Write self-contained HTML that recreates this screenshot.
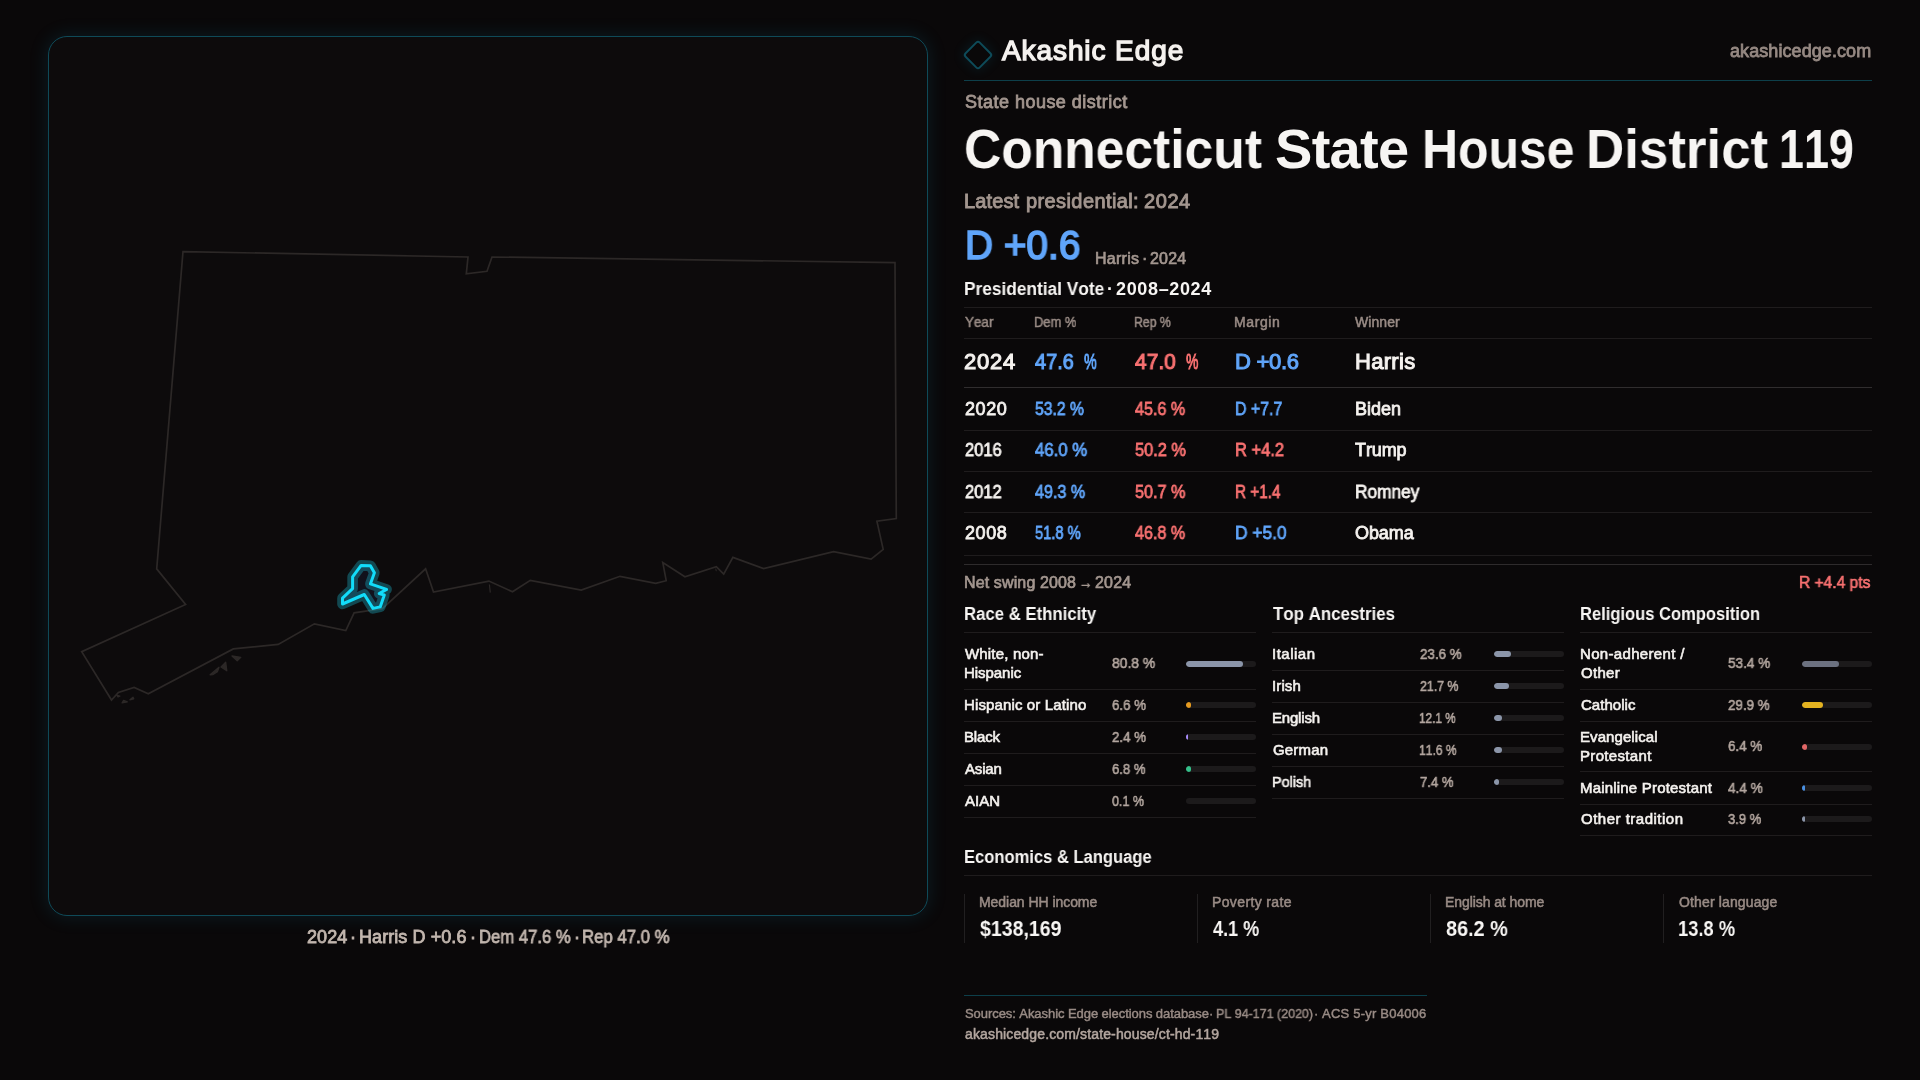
<!DOCTYPE html>
<html lang="en">
<head>
<meta charset="utf-8">
<title>Connecticut State House District 119 — Akashic Edge</title>
<style>
*{box-sizing:border-box;margin:0;padding:0}
html,body{width:1920px;height:1080px;overflow:hidden;background:#0a0809}
body{position:relative;font-family:"Liberation Sans",sans-serif;-webkit-font-smoothing:antialiased}
.t{position:absolute;white-space:pre;font-kerning:none;transform-origin:0 50%;will-change:transform}
.r{position:absolute}
.panel{position:absolute;left:48px;top:36px;width:880px;height:880px;border-radius:19px;background:#0d0b0c;border:1px solid #0f4a58;box-shadow:0 0 18px 2px rgba(20,150,185,.13)}
.bar{position:absolute;width:70px;height:6px;border-radius:3px;background:#1c1a1b;overflow:hidden}
.bar i{display:block;height:6px;border-radius:3px}
svg{position:absolute;left:0;top:0}
.logo{position:absolute;left:966.7px;top:44px;width:22px;height:22px;border:2px solid #0e4b59;border-radius:3.5px;transform:rotate(45deg);box-shadow:0 0 12px 2px rgba(20,150,185,.11)}
</style>
</head>
<body>
<figure aria-label="Connecticut map with State House District 119 highlighted">
<div class="panel"></div>
<svg role="img" aria-label="Outline of Connecticut; District 119 highlighted" width="1920" height="1080" viewBox="0 0 1920 1080" fill="none">
  <g stroke="#2c2827" stroke-width="1.7" stroke-linejoin="miter" stroke-linecap="butt">
    <path d="M183 251.6 L468 257 L466.3 273.8 L487 271.3 L492 257 L895 262.6 L896.3 518.6 L876.9 521.2 L883.2 549.3 L871.1 559.2 L833.6 551.6 L763.6 568.5 L732.9 557.4 L723.7 574.1 L716.3 566.6 L684.9 576.8 L662.8 562.6 L666.2 580.7 L655.7 583.4 L620 576.3 L581.2 590 L530.3 580.3 L512.5 591.8 L488.9 581.1 L433.5 592.1 L425.6 568.8 L382.4 608.7 L367.3 610.9 L354.1 612.8 L345.8 630.5 L314.4 623.8 L278.2 644.4 L233.3 648.9 L148.3 693.75 L134.1 687.5 L118.4 692.5 L111.5 700 L81.7 651.7 L185.6 604.4 L156.7 568.9 Z"/>
    <path d="M489.4 584.5 L490.3 592.6" stroke-width="1.2"/>
    <path d="M715.7 568.6 L716.3 571.2" stroke-width="1"/>
  </g>
  <g fill="#2c2827" stroke="#2c2827" stroke-width="1.3" stroke-linejoin="round">
    <path d="M232 656 L240.8 657.3 L237.2 660.7 Z"/>
    <path d="M225.7 662.3 L226.8 670.8 L221 667 Z"/>
    <path d="M210.1 674.8 L219 667.3 L217.4 671.7 L212.7 674.6 Z"/>
    <path d="M122.1 702.9 L123.6 700.3 L127.3 701.9 Z"/>
    <path d="M129.9 699.8 L133 697.2 L133.75 698.75 Z"/>
    <path d="M116.6 695 L119.8 696.2 L118 697 Z"/>
  </g>
  <g stroke-linejoin="round">
    <path id="dist" d="M361.1 565.4 L370.4 565.7 L374.4 572.8 L370.4 583.9 L386.6 589.4 L379.2 593.5 L384.3 595 L380.2 606.9 L373 608.4 L364.3 594.5 L342.5 604 L342.5 598.2 L352.6 588.7 L352.6 576.9 Z" fill="#11111c" stroke="#1fd6f2" stroke-opacity=".3" stroke-width="10.6"/>
    <path d="M361.1 565.4 L370.4 565.7 L374.4 572.8 L370.4 583.9 L386.6 589.4 L379.2 593.5 L384.3 595 L380.2 606.9 L373 608.4 L364.3 594.5 L342.5 604 L342.5 598.2 L352.6 588.7 L352.6 576.9 Z" stroke="#12dcfa" stroke-width="3"/>
  </g>
</svg>
<figcaption aria-label="Map caption">
<div class="t" style="left:306.65px;top:928px;font-size:18px;line-height:18px;color:#c2b6ae;letter-spacing:0.073px;-webkit-text-stroke:0.8px;">2024</div>
<div class="t" style="left:350.10px;top:928px;font-size:18px;line-height:18px;color:#c2b6ae;-webkit-text-stroke:0.8px;">·</div>
<div class="t" style="left:359.20px;top:928px;font-size:18px;line-height:18px;color:#c2b6ae;letter-spacing:0.073px;-webkit-text-stroke:0.8px;">Harris D +0.6</div>
<div class="t" style="left:470.30px;top:928px;font-size:18px;line-height:18px;color:#c2b6ae;-webkit-text-stroke:0.8px;">·</div>
<div class="t" style="left:478.67px;top:928px;font-size:18px;line-height:18px;color:#c2b6ae;transform:scaleX(0.9262);-webkit-text-stroke:0.8px;">Dem 47.6 %</div>
<div class="t" style="left:573.50px;top:928px;font-size:18px;line-height:18px;color:#c2b6ae;-webkit-text-stroke:0.8px;">·</div>
<div class="t" style="left:582.17px;top:928px;font-size:18px;line-height:18px;color:#c2b6ae;transform:scaleX(0.9317);-webkit-text-stroke:0.8px;">Rep 47.0 %</div>
</figcaption>
</figure>
<main>
<div class="logo"></div>
<div aria-hidden="true">
<div class="r" style="left:964px;top:689px;width:292px;height:1px;background:#1f1c1d"></div>
<div class="r" style="left:964px;top:721px;width:292px;height:1px;background:#1f1c1d"></div>
<div class="r" style="left:964px;top:753px;width:292px;height:1px;background:#1f1c1d"></div>
<div class="r" style="left:964px;top:784.5px;width:292px;height:1px;background:#1f1c1d"></div>
<div class="r" style="left:964px;top:816.5px;width:292px;height:1px;background:#1f1c1d"></div>
<div class="r" style="left:1272px;top:670px;width:292px;height:1px;background:#1f1c1d"></div>
<div class="r" style="left:1272px;top:702px;width:292px;height:1px;background:#1f1c1d"></div>
<div class="r" style="left:1272px;top:734px;width:292px;height:1px;background:#1f1c1d"></div>
<div class="r" style="left:1272px;top:766px;width:292px;height:1px;background:#1f1c1d"></div>
<div class="r" style="left:1272px;top:797.5px;width:292px;height:1px;background:#1f1c1d"></div>
<div class="r" style="left:1580px;top:689px;width:292px;height:1px;background:#1f1c1d"></div>
<div class="r" style="left:1580px;top:721px;width:292px;height:1px;background:#1f1c1d"></div>
<div class="r" style="left:1580px;top:771px;width:292px;height:1px;background:#1f1c1d"></div>
<div class="r" style="left:1580px;top:803.5px;width:292px;height:1px;background:#1f1c1d"></div>
<div class="r" style="left:1580px;top:835px;width:292px;height:1px;background:#1f1c1d"></div>
<div class="r" style="left:964px;top:80px;width:908px;height:1.2px;background:#0d3f4a"></div>
<div class="r" style="left:964px;top:307px;width:908px;height:1px;background:#1f1c1d"></div>
<div class="r" style="left:964px;top:338px;width:908px;height:1px;background:#1f1c1d"></div>
<div class="r" style="left:964px;top:387px;width:908px;height:1px;background:#302d2e"></div>
<div class="r" style="left:964px;top:430px;width:908px;height:1px;background:#1f1c1d"></div>
<div class="r" style="left:964px;top:471px;width:908px;height:1px;background:#1f1c1d"></div>
<div class="r" style="left:964px;top:512px;width:908px;height:1px;background:#1f1c1d"></div>
<div class="r" style="left:964px;top:555px;width:908px;height:1px;background:#1f1c1d"></div>
<div class="r" style="left:964px;top:564px;width:908px;height:1px;background:#2e2b2c"></div>
<div class="r" style="left:964px;top:632px;width:292px;height:1px;background:#1f1c1d"></div>
<div class="r" style="left:1272px;top:632px;width:292px;height:1px;background:#1f1c1d"></div>
<div class="r" style="left:1580px;top:632px;width:292px;height:1px;background:#1f1c1d"></div>
<div class="r" style="left:964px;top:875px;width:908px;height:1px;background:#1f1c1d"></div>
<div class="r" style="left:964px;top:995px;width:463px;height:1.2px;background:#0d3f4a"></div>
<div class="r" style="left:964px;top:894px;width:1px;height:48.5px;background:#211f20"></div>
<div class="r" style="left:1197px;top:894px;width:1px;height:48.5px;background:#211f20"></div>
<div class="r" style="left:1430px;top:894px;width:1px;height:48.5px;background:#211f20"></div>
<div class="r" style="left:1663px;top:894px;width:1px;height:48.5px;background:#211f20"></div>
<div class="bar" style="left:1186px;top:661.20px"><i style="width:56.56px;background:#8b95a9"></i></div>
<div class="bar" style="left:1186px;top:702.00px"><i style="width:5.20px;background:#e59a1f"></i></div>
<div class="bar" style="left:1186px;top:734.00px"><i style="width:2.20px;background:#a78bfa"></i></div>
<div class="bar" style="left:1186px;top:766.00px"><i style="width:5.20px;background:#34c08a"></i></div>
<div class="bar" style="left:1186px;top:798.00px"><i style="width:0.07px;background:#8b95a9"></i></div>
<div class="bar" style="left:1494px;top:650.80px"><i style="width:16.52px;background:#8b95a9"></i></div>
<div class="bar" style="left:1494px;top:682.80px"><i style="width:15.19px;background:#8b95a9"></i></div>
<div class="bar" style="left:1494px;top:714.80px"><i style="width:8.47px;background:#8b95a9"></i></div>
<div class="bar" style="left:1494px;top:746.80px"><i style="width:8.12px;background:#8b95a9"></i></div>
<div class="bar" style="left:1494px;top:778.80px"><i style="width:5.20px;background:#8b95a9"></i></div>
<div class="bar" style="left:1802px;top:661.20px"><i style="width:37.38px;background:#6c7180"></i></div>
<div class="bar" style="left:1802px;top:702.00px"><i style="width:20.93px;background:#e3b220"></i></div>
<div class="bar" style="left:1802px;top:744.00px"><i style="width:5.20px;background:#e06666"></i></div>
<div class="bar" style="left:1802px;top:785.00px"><i style="width:3.08px;background:#4a90e2"></i></div>
<div class="bar" style="left:1802px;top:816.00px"><i style="width:2.73px;background:#8b95a9"></i></div>
</div>
<header aria-label="Akashic Edge">
<div class="t" style="left:1001.92px;top:37px;font-size:28px;line-height:28px;color:#f5f2ef;letter-spacing:0.910px;-webkit-text-stroke:1.35px;">Akashic Edge</div>
<div class="t" style="left:1729.80px;top:42px;font-size:18px;line-height:18px;color:#968983;letter-spacing:0.080px;-webkit-text-stroke:0.8px;">akashicedge.com</div>
</header>
<section aria-label="District summary">
<div class="t" style="left:964.90px;top:93px;font-size:18px;line-height:18px;color:#a3968f;letter-spacing:0.480px;-webkit-text-stroke:0.8px;">State house district</div>
<div class="t" style="left:964.41px;top:121px;font-size:56px;line-height:56px;color:#f7f5f3;transform:scaleX(0.9208);font-weight:700;">Connecticut</div>
<div class="t" style="left:1274.50px;top:121px;font-size:56px;line-height:56px;color:#f7f5f3;letter-spacing:-0.698px;font-weight:700;">State</div>
<div class="t" style="left:1421.58px;top:121px;font-size:56px;line-height:56px;color:#f7f5f3;transform:scaleX(0.8907);font-weight:700;">House</div>
<div class="t" style="left:1585.92px;top:121px;font-size:56px;line-height:56px;color:#f7f5f3;transform:scaleX(0.9443);font-weight:700;">District</div>
<div class="t" style="left:1779.35px;top:121px;font-size:56px;line-height:56px;color:#f7f5f3;transform:scaleX(0.8005);font-weight:700;">119</div>
<div class="t" style="left:963.95px;top:191px;font-size:20px;line-height:20px;color:#a3968f;letter-spacing:0.135px;-webkit-text-stroke:0.9px;">Latest</div>
<div class="t" style="left:1026.45px;top:191px;font-size:20px;line-height:20px;color:#a3968f;letter-spacing:0.401px;-webkit-text-stroke:0.9px;">presidential:</div>
<div class="t" style="left:1143.95px;top:191px;font-size:20px;line-height:20px;color:#a3968f;letter-spacing:0.577px;-webkit-text-stroke:0.9px;">2024</div>
<div class="t" style="left:964.94px;top:225px;font-size:40px;line-height:40px;color:#60a5fa;transform:scaleX(0.9702);-webkit-text-stroke:1.7px;">D +0.6</div>
<div class="t" style="left:1095.09px;top:251px;font-size:16px;line-height:16px;color:#a3968f;letter-spacing:0.281px;-webkit-text-stroke:0.68px;">Harris</div>
<div class="t" style="left:1142.10px;top:251px;font-size:16px;line-height:16px;color:#a3968f;-webkit-text-stroke:0.68px;">·</div>
<div class="t" style="left:1150.34px;top:251px;font-size:16px;line-height:16px;color:#a3968f;letter-spacing:0.208px;-webkit-text-stroke:0.68px;">2024</div>
</section>
<section aria-label="Presidential vote 2008-2024">
<div class="t" style="left:963.54px;top:280px;font-size:18px;line-height:18px;color:#f8f6f4;transform:scaleX(0.9603);font-weight:700;">Presidential Vote</div>
<div class="t" style="left:1107.30px;top:280px;font-size:18px;line-height:18px;color:#f8f6f4;font-weight:700;">·</div>
<div class="t" style="left:1115.50px;top:280px;font-size:18px;line-height:18px;color:#f8f6f4;letter-spacing:0.646px;font-weight:700;">2008–2024</div>
<div class="t" style="left:964.76px;top:315px;font-size:14px;line-height:14px;color:#998b85;transform:scaleX(0.9600);-webkit-text-stroke:0.52px;">Year</div>
<div class="t" style="left:1033.84px;top:315px;font-size:14px;line-height:14px;color:#998b85;transform:scaleX(0.9220);-webkit-text-stroke:0.52px;">Dem %</div>
<div class="t" style="left:1133.89px;top:315px;font-size:14px;line-height:14px;color:#998b85;transform:scaleX(0.8745);-webkit-text-stroke:0.52px;">Rep %</div>
<div class="t" style="left:1233.76px;top:315px;font-size:14px;line-height:14px;color:#998b85;letter-spacing:0.595px;-webkit-text-stroke:0.52px;">Margin</div>
<div class="t" style="left:1354.76px;top:315px;font-size:14px;line-height:14px;color:#998b85;letter-spacing:0.059px;-webkit-text-stroke:0.52px;">Winner</div>
<div class="t" style="left:964.02px;top:351px;font-size:22px;line-height:22px;color:#f5f2ef;letter-spacing:0.748px;-webkit-text-stroke:1.05px;">2024</div>
<div class="t" style="left:1034.73px;top:351px;font-size:22px;line-height:22px;color:#60a5fa;transform:scaleX(0.9076);-webkit-text-stroke:1.05px;">47.6</div>
<div class="t" style="left:1083.53px;top:351px;font-size:22px;line-height:22px;color:#60a5fa;transform:scaleX(0.6500);-webkit-text-stroke:1.05px;">%</div>
<div class="t" style="left:1135.03px;top:351px;font-size:22px;line-height:22px;color:#f87171;transform:scaleX(0.9546);-webkit-text-stroke:1.05px;">47.0</div>
<div class="t" style="left:1185.73px;top:351px;font-size:22px;line-height:22px;color:#f87171;transform:scaleX(0.6342);-webkit-text-stroke:1.05px;">%</div>
<div class="t" style="left:1235.03px;top:351px;font-size:22px;line-height:22px;color:#60a5fa;letter-spacing:-0.299px;-webkit-text-stroke:1.05px;">D +0.6</div>
<div class="t" style="left:1355.03px;top:351px;font-size:22px;line-height:22px;color:#f5f2ef;letter-spacing:0.307px;-webkit-text-stroke:1.05px;">Harris</div>
<div class="t" style="left:964.90px;top:400px;font-size:18px;line-height:18px;color:#f5f2ef;letter-spacing:0.556px;-webkit-text-stroke:0.8px;">2020</div>
<div class="t" style="left:1034.90px;top:400px;font-size:18px;line-height:18px;color:#60a5fa;transform:scaleX(0.8736);-webkit-text-stroke:0.8px;">53.2 %</div>
<div class="t" style="left:1134.90px;top:400px;font-size:18px;line-height:18px;color:#f87171;transform:scaleX(0.8959);-webkit-text-stroke:0.8px;">45.6 %</div>
<div class="t" style="left:1234.82px;top:400px;font-size:18px;line-height:18px;color:#60a5fa;transform:scaleX(0.8834);-webkit-text-stroke:0.8px;">D +7.7</div>
<div class="t" style="left:1354.70px;top:400px;font-size:18px;line-height:18px;color:#f5f2ef;letter-spacing:-0.032px;-webkit-text-stroke:0.8px;">Biden</div>
<div class="t" style="left:964.90px;top:441px;font-size:18px;line-height:18px;color:#f5f2ef;transform:scaleX(0.9168);-webkit-text-stroke:0.8px;">2016</div>
<div class="t" style="left:1034.90px;top:441px;font-size:18px;line-height:18px;color:#60a5fa;transform:scaleX(0.9316);-webkit-text-stroke:0.8px;">46.0 %</div>
<div class="t" style="left:1134.90px;top:441px;font-size:18px;line-height:18px;color:#f87171;transform:scaleX(0.9093);-webkit-text-stroke:0.8px;">50.2 %</div>
<div class="t" style="left:1234.78px;top:441px;font-size:18px;line-height:18px;color:#f87171;transform:scaleX(0.9167);-webkit-text-stroke:0.8px;">R +4.2</div>
<div class="t" style="left:1354.90px;top:441px;font-size:18px;line-height:18px;color:#f5f2ef;letter-spacing:-0.094px;-webkit-text-stroke:0.8px;">Trump</div>
<div class="t" style="left:964.90px;top:483px;font-size:18px;line-height:18px;color:#f5f2ef;transform:scaleX(0.9168);-webkit-text-stroke:0.8px;">2012</div>
<div class="t" style="left:1034.90px;top:483px;font-size:18px;line-height:18px;color:#60a5fa;transform:scaleX(0.8959);-webkit-text-stroke:0.8px;">49.3 %</div>
<div class="t" style="left:1134.90px;top:483px;font-size:18px;line-height:18px;color:#f87171;transform:scaleX(0.9003);-webkit-text-stroke:0.8px;">50.7 %</div>
<div class="t" style="left:1234.85px;top:483px;font-size:18px;line-height:18px;color:#f87171;transform:scaleX(0.8501);-webkit-text-stroke:0.8px;">R +1.4</div>
<div class="t" style="left:1354.74px;top:483px;font-size:18px;line-height:18px;color:#f5f2ef;transform:scaleX(0.9602);-webkit-text-stroke:0.8px;">Romney</div>
<div class="t" style="left:964.90px;top:524px;font-size:18px;line-height:18px;color:#f5f2ef;letter-spacing:0.556px;-webkit-text-stroke:0.8px;">2008</div>
<div class="t" style="left:1034.90px;top:524px;font-size:18px;line-height:18px;color:#60a5fa;transform:scaleX(0.8156);-webkit-text-stroke:0.8px;">51.8 %</div>
<div class="t" style="left:1134.90px;top:524px;font-size:18px;line-height:18px;color:#f87171;transform:scaleX(0.8959);-webkit-text-stroke:0.8px;">46.8 %</div>
<div class="t" style="left:1234.74px;top:524px;font-size:18px;line-height:18px;color:#60a5fa;transform:scaleX(0.9643);-webkit-text-stroke:0.8px;">D +5.0</div>
<div class="t" style="left:1354.90px;top:524px;font-size:18px;line-height:18px;color:#f5f2ef;letter-spacing:-0.079px;-webkit-text-stroke:0.8px;">Obama</div>
<div class="t" style="left:963.84px;top:575px;font-size:16px;line-height:16px;color:#a3968f;letter-spacing:0.129px;-webkit-text-stroke:0.68px;">Net swing 2008</div>
<div class="t" style="left:1078.52px;top:575px;font-size:16px;line-height:16px;color:#a3968f;transform:scaleX(0.8570);-webkit-text-stroke:0.68px;">→</div>
<div class="t" style="left:1094.84px;top:575px;font-size:16px;line-height:16px;color:#a3968f;letter-spacing:0.208px;-webkit-text-stroke:0.68px;">2024</div>
<div class="t" style="left:1798.87px;top:575px;font-size:16px;line-height:16px;color:#f87171;transform:scaleX(0.9716);-webkit-text-stroke:0.68px;">R +4.4 pts</div>
</section>
<section aria-label="Demographics">
<div class="t" style="left:963.57px;top:605px;font-size:18px;line-height:18px;color:#f8f6f4;transform:scaleX(0.9307);font-weight:700;">Race &amp; Ethnicity</div>
<div class="t" style="left:1272.50px;top:605px;font-size:18px;line-height:18px;color:#f8f6f4;transform:scaleX(0.9383);font-weight:700;">Top Ancestries</div>
<div class="t" style="left:1579.58px;top:605px;font-size:18px;line-height:18px;color:#f8f6f4;transform:scaleX(0.9188);font-weight:700;">Religious Composition</div>
<div class="t" style="left:965.00px;top:646px;font-size:15px;line-height:15px;color:#f5f2ef;letter-spacing:0.175px;-webkit-text-stroke:0.6px;">White, non-</div>
<div class="t" style="left:964.00px;top:665px;font-size:15px;line-height:15px;color:#f5f2ef;letter-spacing:-0.046px;-webkit-text-stroke:0.6px;">Hispanic</div>
<div class="t" style="left:1112.20px;top:655px;font-size:15px;line-height:15px;color:#b3a69f;transform:scaleX(0.9275);-webkit-text-stroke:0.6px;">80.8 %</div>
<div class="t" style="left:964.00px;top:697px;font-size:15px;line-height:15px;color:#f5f2ef;letter-spacing:0.131px;-webkit-text-stroke:0.6px;">Hispanic or Latino</div>
<div class="t" style="left:1112.20px;top:697px;font-size:15px;line-height:15px;color:#b3a69f;transform:scaleX(0.8877);-webkit-text-stroke:0.6px;">6.6 %</div>
<div class="t" style="left:964.00px;top:729px;font-size:15px;line-height:15px;color:#f5f2ef;letter-spacing:-0.182px;-webkit-text-stroke:0.6px;">Black</div>
<div class="t" style="left:1112.20px;top:729px;font-size:15px;line-height:15px;color:#b3a69f;transform:scaleX(0.8877);-webkit-text-stroke:0.6px;">2.4 %</div>
<div class="t" style="left:965.00px;top:761px;font-size:15px;line-height:15px;color:#f5f2ef;letter-spacing:-0.182px;-webkit-text-stroke:0.6px;">Asian</div>
<div class="t" style="left:1112.20px;top:761px;font-size:15px;line-height:15px;color:#b3a69f;transform:scaleX(0.8746);-webkit-text-stroke:0.6px;">6.8 %</div>
<div class="t" style="left:965.00px;top:793px;font-size:15px;line-height:15px;color:#f5f2ef;letter-spacing:0.008px;-webkit-text-stroke:0.6px;">AIAN</div>
<div class="t" style="left:1112.20px;top:793px;font-size:15px;line-height:15px;color:#b3a69f;transform:scaleX(0.8351);-webkit-text-stroke:0.6px;">0.1 %</div>
<div class="t" style="left:1272.00px;top:646px;font-size:15px;line-height:15px;color:#f5f2ef;letter-spacing:0.503px;-webkit-text-stroke:0.6px;">Italian</div>
<div class="t" style="left:1420.20px;top:646px;font-size:15px;line-height:15px;color:#b3a69f;transform:scaleX(0.8951);-webkit-text-stroke:0.6px;">23.6 %</div>
<div class="t" style="left:1272.00px;top:678px;font-size:15px;line-height:15px;color:#f5f2ef;letter-spacing:0.114px;-webkit-text-stroke:0.6px;">Irish</div>
<div class="t" style="left:1420.20px;top:678px;font-size:15px;line-height:15px;color:#b3a69f;transform:scaleX(0.8250);-webkit-text-stroke:0.6px;">21.7 %</div>
<div class="t" style="left:1272.00px;top:710px;font-size:15px;line-height:15px;color:#f5f2ef;letter-spacing:-0.192px;-webkit-text-stroke:0.6px;">English</div>
<div class="t" style="left:1419.41px;top:710px;font-size:15px;line-height:15px;color:#b3a69f;transform:scaleX(0.7881);-webkit-text-stroke:0.6px;">12.1 %</div>
<div class="t" style="left:1273.00px;top:742px;font-size:15px;line-height:15px;color:#f5f2ef;letter-spacing:0.172px;-webkit-text-stroke:0.6px;">German</div>
<div class="t" style="left:1419.39px;top:742px;font-size:15px;line-height:15px;color:#b3a69f;transform:scaleX(0.8079);-webkit-text-stroke:0.6px;">11.6 %</div>
<div class="t" style="left:1272.04px;top:774px;font-size:15px;line-height:15px;color:#f5f2ef;transform:scaleX(0.9605);-webkit-text-stroke:0.6px;">Polish</div>
<div class="t" style="left:1420.20px;top:774px;font-size:15px;line-height:15px;color:#b3a69f;transform:scaleX(0.8746);-webkit-text-stroke:0.6px;">7.4 %</div>
<div class="t" style="left:1580.00px;top:646px;font-size:15px;line-height:15px;color:#f5f2ef;letter-spacing:0.331px;-webkit-text-stroke:0.6px;">Non-adherent /</div>
<div class="t" style="left:1581.00px;top:665px;font-size:15px;line-height:15px;color:#f5f2ef;letter-spacing:0.295px;-webkit-text-stroke:0.6px;">Other</div>
<div class="t" style="left:1728.20px;top:655px;font-size:15px;line-height:15px;color:#b3a69f;transform:scaleX(0.9059);-webkit-text-stroke:0.6px;">53.4 %</div>
<div class="t" style="left:1581.00px;top:697px;font-size:15px;line-height:15px;color:#f5f2ef;letter-spacing:0.037px;-webkit-text-stroke:0.6px;">Catholic</div>
<div class="t" style="left:1728.20px;top:697px;font-size:15px;line-height:15px;color:#b3a69f;transform:scaleX(0.8951);-webkit-text-stroke:0.6px;">29.9 %</div>
<div class="t" style="left:1580.00px;top:729px;font-size:15px;line-height:15px;color:#f5f2ef;letter-spacing:0.082px;-webkit-text-stroke:0.6px;">Evangelical</div>
<div class="t" style="left:1580.00px;top:748px;font-size:15px;line-height:15px;color:#f5f2ef;letter-spacing:0.333px;-webkit-text-stroke:0.6px;">Protestant</div>
<div class="t" style="left:1728.20px;top:738px;font-size:15px;line-height:15px;color:#b3a69f;transform:scaleX(0.8943);-webkit-text-stroke:0.6px;">6.4 %</div>
<div class="t" style="left:1580.00px;top:780px;font-size:15px;line-height:15px;color:#f5f2ef;letter-spacing:0.193px;-webkit-text-stroke:0.6px;">Mainline Protestant</div>
<div class="t" style="left:1728.20px;top:780px;font-size:15px;line-height:15px;color:#b3a69f;transform:scaleX(0.9074);-webkit-text-stroke:0.6px;">4.4 %</div>
<div class="t" style="left:1581.00px;top:811px;font-size:15px;line-height:15px;color:#f5f2ef;letter-spacing:0.500px;-webkit-text-stroke:0.6px;">Other tradition</div>
<div class="t" style="left:1728.20px;top:811px;font-size:15px;line-height:15px;color:#b3a69f;transform:scaleX(0.8680);-webkit-text-stroke:0.6px;">3.9 %</div>
</section>
<section aria-label="Economics and language">
<div class="t" style="left:963.58px;top:848px;font-size:18px;line-height:18px;color:#f8f6f4;transform:scaleX(0.9198);font-weight:700;">Economics &amp; Language</div>
<div class="t" style="left:978.76px;top:895px;font-size:14px;line-height:14px;color:#998b85;letter-spacing:-0.052px;-webkit-text-stroke:0.52px;">Median HH income</div>
<div class="t" style="left:980.00px;top:918px;font-size:22px;line-height:22px;color:#f8f6f4;transform:scaleX(0.8877);font-weight:700;">$138,169</div>
<div class="t" style="left:1211.76px;top:895px;font-size:14px;line-height:14px;color:#998b85;letter-spacing:0.367px;-webkit-text-stroke:0.52px;">Poverty rate</div>
<div class="t" style="left:1212.50px;top:918px;font-size:22px;line-height:22px;color:#f8f6f4;transform:scaleX(0.8214);font-weight:700;">4.1 %</div>
<div class="t" style="left:1444.76px;top:895px;font-size:14px;line-height:14px;color:#998b85;letter-spacing:-0.080px;-webkit-text-stroke:0.52px;">English at home</div>
<div class="t" style="left:1445.50px;top:918px;font-size:22px;line-height:22px;color:#f8f6f4;transform:scaleX(0.9017);font-weight:700;">86.2 %</div>
<div class="t" style="left:1678.76px;top:895px;font-size:14px;line-height:14px;color:#998b85;letter-spacing:0.135px;-webkit-text-stroke:0.52px;">Other language</div>
<div class="t" style="left:1678.42px;top:918px;font-size:22px;line-height:22px;color:#f8f6f4;transform:scaleX(0.8330);font-weight:700;">13.8 %</div>
</section>
<footer aria-label="Sources">
<div class="t" style="left:964.73px;top:1007px;font-size:13px;line-height:13px;color:#998b85;letter-spacing:-0.065px;-webkit-text-stroke:0.45px;">Sources: Akashic Edge elections database</div>
<div class="t" style="left:1209.20px;top:1007px;font-size:13px;line-height:13px;color:#998b85;-webkit-text-stroke:0.45px;">·</div>
<div class="t" style="left:1216.27px;top:1007px;font-size:13px;line-height:13px;color:#998b85;transform:scaleX(0.9594);-webkit-text-stroke:0.45px;">PL 94-171 (2020)</div>
<div class="t" style="left:1314.20px;top:1007px;font-size:13px;line-height:13px;color:#998b85;-webkit-text-stroke:0.45px;">·</div>
<div class="t" style="left:1321.97px;top:1007px;font-size:13px;line-height:13px;color:#998b85;letter-spacing:0.223px;-webkit-text-stroke:0.45px;">ACS 5-yr B04006</div>
<div class="t" style="left:964.76px;top:1027px;font-size:14px;line-height:14px;color:#b3a69f;letter-spacing:0.139px;-webkit-text-stroke:0.52px;">akashicedge.com/state-house/ct-hd-119</div>
</footer>
</main>
</body>
</html>
